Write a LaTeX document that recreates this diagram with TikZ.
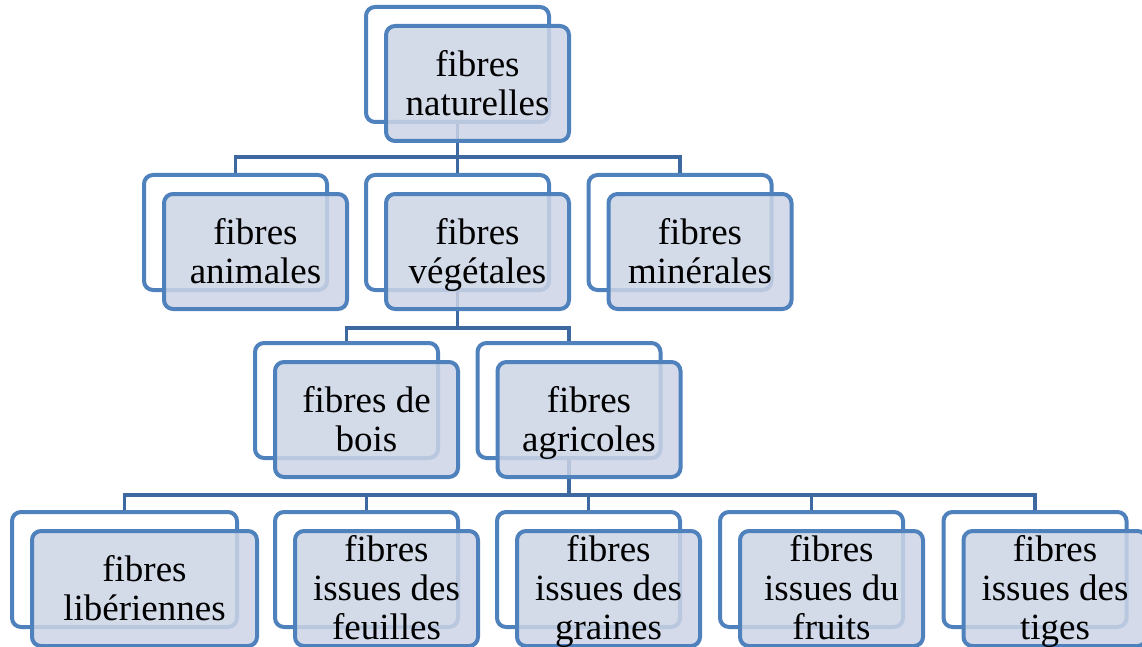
\documentclass[tikz,border=0pt]{standalone}
\usepackage{fontspec}
\setmainfont{Liberation Serif}
\definecolor{boxblue}{RGB}{79,129,189}
\definecolor{linkblue}{RGB}{62,104,160}
\definecolor{boxfill}{RGB}{204,212,229}

\begin{document}
\begin{tikzpicture}[x=1pt, y=-1pt,
    backbox/.style={draw=boxblue, line width=4pt, rounded corners=9pt, fill=white, minimum width=183pt, minimum height=115pt},
    frontbox/.style={backbox, fill=boxfill, fill opacity=0.85, text opacity=1, align=center, inner xsep=2pt, inner ysep=0pt, text depth=1.7pt, font=\fontsize{37}{39}\selectfont},
    link/.style={draw=linkblue, line width=3.5pt}]
\useasboundingbox (0,0) rectangle (1142,647);

% Back boxes
\node[backbox] (natB) at (457.5,64.5) {};
\node[backbox] (aniB) at (235.5,232.5) {};
\node[backbox] (vegB) at (457.5,232.5) {};
\node[backbox] (minB) at (680,232.5) {};
\node[backbox] (boisB) at (346.5,400.5) {};
\node[backbox] (agriB) at (569,400.5) {};
\node[backbox, minimum width=225pt] (libB) at (124.5,569.5) {};
\node[backbox] (feuB) at (366.5,569.5) {};
\node[backbox] (graB) at (588.5,569.5) {};
\node[backbox] (fruB) at (811.5,569.5) {};
\node[backbox] (tigB) at (1035,569.5) {};

% Connectors
\coordinate (bar1) at (457.5,157);
\coordinate (bar2) at (457.5,328);
\coordinate (bar3) at (569,495);
\draw[link] (natB.south) -- (vegB.north);
\draw[link] (aniB.north) |- (bar1) -| (minB.north);
\draw[link] (vegB.south) -- (bar2);
\draw[link] (boisB.north) |- (bar2) -| (agriB.north);
\draw[link] (agriB.south) -- (bar3);
\draw[link] (libB.north) |- (bar3) -| (tigB.north);
\draw[link] (feuB.north) -- (feuB.north |- bar3);
\draw[link] (graB.north) -- (graB.north |- bar3);
\draw[link] (fruB.north) -- (fruB.north |- bar3);

% Front boxes
\node[frontbox] (nat) at ([shift={(20,19)}]natB.center) {fibres\\naturelles};
\node[frontbox] (ani) at ([shift={(20,19)}]aniB.center) {fibres\\animales};
\node[frontbox] (veg) at ([shift={(20,19)}]vegB.center) {fibres\\végétales};
\node[frontbox] (min) at ([shift={(20,19)}]minB.center) {fibres\\minérales};
\node[frontbox] (bois) at ([shift={(20,19)}]boisB.center) {fibres de\\bois};
\node[frontbox] (agri) at ([shift={(20,19)}]agriB.center) {fibres\\agricoles};
\node[frontbox, minimum width=225pt] (lib) at ([shift={(20,19)}]libB.center) {fibres\\libériennes};
\node[frontbox] (feu) at ([shift={(20,19)}]feuB.center) {fibres\\issues des\\feuilles};
\node[frontbox] (gra) at ([shift={(20,19)}]graB.center) {fibres\\issues des\\graines};
\node[frontbox] (fru) at ([shift={(20,19)}]fruB.center) {fibres\\issues du\\fruits};
\node[frontbox] (tig) at ([shift={(20,19)}]tigB.center) {fibres\\issues des\\tiges};

\end{tikzpicture}
\end{document}
